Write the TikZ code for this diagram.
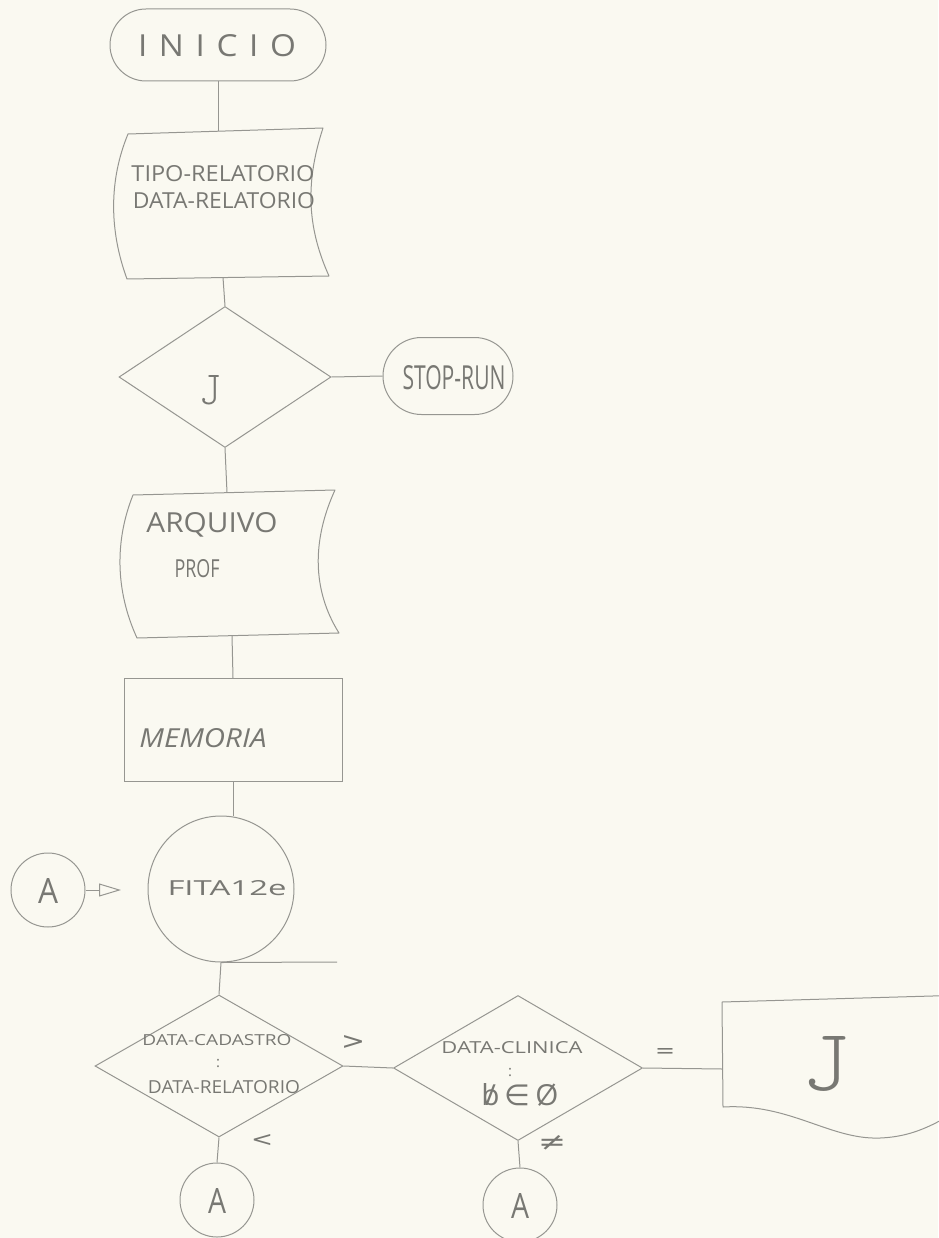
\documentclass[tikz,border=0pt]{standalone}
\usepackage{fontspec}
\usepackage{graphicx}
\setmainfont{Open Sans}
\newfontfamily\hairfont{lmmonolt10-regular.otf}
\newfontfamily\symfont{DejaVu Sans}
\usetikzlibrary{shapes.geometric,shapes.misc,arrows.meta}

\definecolor{paper}{RGB}{250,249,241}
\definecolor{pencil}{RGB}{150,150,145}
\definecolor{lead}{RGB}{120,120,115}

% text scaled to a given width and cap height (in pt)
\newcommand{\handtext}[3]{\resizebox{#1pt}{#2pt}{#3}}
\newcommand{\blankb}{{\ooalign{\hfil b\hfil\cr\hfil/\hfil}}}

\tikzset{
  ln/.style={draw=pencil, line width=1pt, line join=round},
  link/.style={draw=pencil, line width=1pt},
  txt/.style={text=lead, inner sep=0pt},
  term/.style={rounded rectangle, draw=pencil, line width=1pt, inner sep=0pt},
  deci/.style={diamond, draw=pencil, line width=1pt, inner sep=0pt},
  conn/.style={circle, draw=pencil, line width=1pt, inner sep=0pt},
  proc/.style={rectangle, draw=pencil, line width=1pt, inner sep=0pt},
}

\begin{document}
\begin{tikzpicture}[x=1pt,y=-1pt]
\fill[paper] (0,0) rectangle (938,1238);
\useasboundingbox (0,0) rectangle (938,1238);

% start terminal
\node[term, minimum width=216pt, minimum height=72pt] (inicio) at (218,45) {};
\node[txt] (inicioTxt) at (217,46) {\handtext{158}{22}{I\kern.35em N\kern.35em I\kern.35em C\kern.35em I\kern.35em O}};

% stored data: report parameters
\draw[ln] (128,134) -- (323,128) .. controls (306,180) and (306,225) .. (329,276)
  -- (127,279) .. controls (109,230) and (109,180) .. (128,134) -- cycle;
\coordinate (paramTop) at (218,131);
\coordinate (paramBot) at (223,277.5);
\node[txt] (tipoTxt) at (223,174) {\handtext{183}{16}{TIPO-RELATORIO}};
\node[txt] (dataTxt) at (224,201) {\handtext{182}{16}{DATA-RELATORIO}};
\draw[link] (inicio.south) -- (paramTop);

% first decision
\node[deci, minimum width=212pt, minimum height=141pt] (testJ) at (225,377) {};
\node[txt] (jMark) at (210,390) {\handtext{22}{29}{\hairfont J}};
\draw[link] (paramBot) -- (testJ.north);

% stop terminal
\node[term, minimum width=130pt, minimum height=77pt] (stoprun) at (448,376) {};
\node[txt] (stopTxt) at (454,378) {\handtext{103}{24}{STOP-RUN}};
\draw[link] (testJ.east) -- (stoprun.west);

% stored data: professional file
\draw[ln] (133,495) -- (335,490) .. controls (312,540) and (312,590) .. (339,633)
  -- (137,638) .. controls (115,590) and (115,540) .. (133,495) -- cycle;
\coordinate (arqTop) at (227,492.5);
\coordinate (arqBot) at (232,635.5);
\node[txt] (arqTxt) at (212,525) {\handtext{131}{20}{ARQUIVO}};
\node[txt] (profTxt) at (197,569) {\handtext{45}{18}{PROF}};
\draw[link] (testJ.south) -- (arqTop);

% memory process
\node[proc, minimum width=218pt, minimum height=103pt] (memoria) at (233,730) {};
\node[txt] (memTxt) at (203,738) {\handtext{127}{19}{\itshape MEMORIA}};
\draw[link] (arqBot) -- (memoria.north);

% tape
\node[conn, minimum size=146pt] (fita) at (221,889) {};
\node[txt] (fitaTxt) at (227,888) {\handtext{119}{15}{FITA12e}};
\coordinate (tapeEnd) at (337,962);
\draw[link] (memoria.south) -- (memoria.south |- fita.north);
\draw[link] (fita.south) -- (tapeEnd);

% entry connector A
\node[conn, minimum size=74pt] (conA) at (48,890) {};
\node[txt] (conATxt) at (48,891) {\handtext{20}{25}{A}};
\coordinate (arrowTip) at (121,890);
\draw[link, -{Triangle[open, length=22pt, width=13pt]}] (conA.east) -- (arrowTip);

% date comparison
\node[deci, minimum width=248pt, minimum height=142pt] (dcad) at (219,1066) {};
\node[txt] (cadTxt) at (217,1040) {\handtext{149}{11}{DATA-CADASTRO}};
\node[txt] (cadColon) at (218,1063) {\fontsize{15}{15}\selectfont :};
\node[txt] (relTxt) at (224,1087) {\handtext{152}{13}{DATA-RELATORIO}};
\node[txt] (gtTxt) at (353,1042) {\handtext{24}{14}{\symfont >}};
\node[txt] (ltTxt) at (262,1140) {\handtext{22}{12}{\symfont <}};
\draw[link] (fita.south) -- (dcad.north);

% exit connector A (less)
\node[conn, minimum size=74pt] (conA2) at (217,1200) {};
\node[txt] (conA2Txt) at (217,1201) {\handtext{18}{25}{A}};
\draw[link] (dcad.south) -- (conA2.north);

% clinic date test
\node[deci, minimum width=249pt, minimum height=145pt] (dcli) at (518,1068) {};
\node[txt] (cliTxt) at (512,1048) {\handtext{141}{12}{DATA-CLINICA}};
\node[txt] (cliColon) at (510,1072) {\fontsize{15}{15}\selectfont :};
\node[txt] (zeroTxt) at (520,1095) {\handtext{77}{22}{\blankb\,{\symfont ∈}\,Ø}};
\node[txt] (neTxt) at (552,1143) {\handtext{28}{15}{\symfont ≠}};
\node[txt] (eqTxt) at (665,1053) {\handtext{20}{9}{\symfont =}};
\draw[link] (dcad.east) -- (dcli.west);

% exit connector A (not equal)
\node[conn, minimum size=74pt] (conA3) at (520,1205) {};
\node[txt] (conA3Txt) at (520,1206) {\handtext{18}{25}{A}};
\draw[link] (dcli.south) -- (conA3.north);

% document J
\draw[ln] (950,995.5) -- (722,1002) -- (723,1107)
  .. controls (790,1103) and (830,1140) .. (880,1138)
  .. controls (905,1137) and (925,1130) .. (950,1115);
\coordinate (docWest) at (722.5,1069);
\node[txt] (docTxt) at (826,1064) {\handtext{48}{54}{\hairfont J}};
\draw[link] (dcli.east) -- (docWest);
\end{tikzpicture}
\end{document}
